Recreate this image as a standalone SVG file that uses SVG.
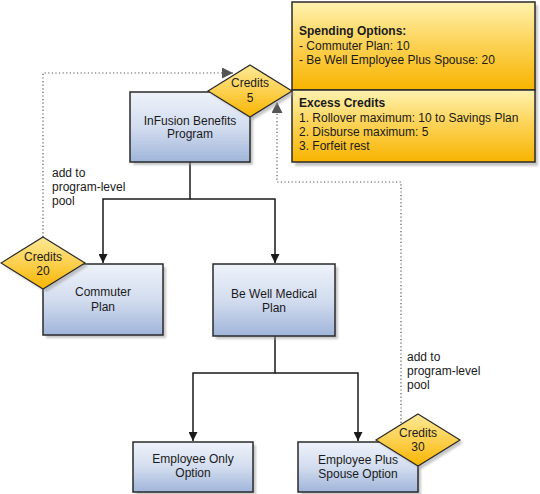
<svg xmlns="http://www.w3.org/2000/svg" width="540" height="494" viewBox="0 0 540 494">
<defs>
<linearGradient id="gBox" x1="0" y1="0" x2="0" y2="1">
<stop offset="0" stop-color="#eef2fa"/>
<stop offset="0.5" stop-color="#d3ddef"/>
<stop offset="1" stop-color="#a0b5da"/>
</linearGradient>
<linearGradient id="gYel" x1="0" y1="0" x2="0" y2="1">
<stop offset="0" stop-color="#fff2b0"/>
<stop offset="0.45" stop-color="#fcd45a"/>
<stop offset="1" stop-color="#f8b400"/>
</linearGradient>
<linearGradient id="gDia" x1="0" y1="0" x2="0" y2="1">
<stop offset="0" stop-color="#fde995"/>
<stop offset="0.5" stop-color="#fcd050"/>
<stop offset="1" stop-color="#f8b500"/>
</linearGradient>
<filter id="sh" x="-10%" y="-10%" width="130%" height="130%">
<feGaussianBlur stdDeviation="1.2"/>
</filter>
<marker id="aSolid" viewBox="0 0 10 10" refX="10" refY="5" markerWidth="9" markerHeight="9" markerUnits="userSpaceOnUse" orient="auto">
<path d="M0,0 L10,5 L0,10 Z" fill="#1a1a1a"/>
</marker>
<marker id="aDot" viewBox="0 0 10 10" refX="10" refY="5" markerWidth="11" markerHeight="11" markerUnits="userSpaceOnUse" orient="auto">
<path d="M0,0 L10,5 L0,10 Z" fill="#555"/>
</marker>
</defs>
<style>
text{font-family:"Liberation Sans",Arial,sans-serif;font-size:12px;fill:#1a1a1a}
.c{text-anchor:middle}
.b{font-weight:bold}
.box{fill:url(#gBox);stroke:#2a2a2a;stroke-width:1.5}
.yel{fill:url(#gYel);stroke:#2a2a2a;stroke-width:1.5}
.dia{fill:url(#gDia);stroke:#2a2a2a;stroke-width:1.2}
.shd{fill:#999;opacity:0.55;filter:url(#sh)}
.ln{fill:none;stroke:#1a1a1a;stroke-width:1.5}
.dot{fill:none;stroke:#555;stroke-width:1.2;stroke-dasharray:1.2,2.4}
</style>

<g id="connectors">
<path class="ln" d="M190,162 V199 H103 V263" marker-end="url(#aSolid)"/>
<path class="ln" d="M190,199 H275 V263" marker-end="url(#aSolid)"/>
<path class="ln" d="M275,336 V373 H193 V441" marker-end="url(#aSolid)"/>
<path class="ln" d="M275,373 H358 V441" marker-end="url(#aSolid)"/>
<path class="dot" d="M43,237 V73 H233" marker-end="url(#aDot)"/>
<path class="dot" d="M401,423 V182 H277 V102" marker-end="url(#aDot)"/>
</g>

<g id="spending-options">
<rect class="shd" x="295" y="5" width="243" height="161"/>
<rect class="yel" x="292" y="2" width="243" height="88"/>
<rect class="yel" x="292" y="90" width="243" height="72"/>
<text class="b" x="299" y="35">Spending Options:</text>
<text x="299" y="50">- Commuter Plan: 10</text>
<text x="299" y="64">- Be Well Employee Plus Spouse: 20</text>
<text class="b" x="299" y="107">Excess Credits</text>
<text x="299" y="122">1. Rollover maximum: 10 to Savings Plan</text>
<text x="299" y="136">2. Disburse maximum: 5</text>
<text x="299" y="150">3. Forfeit rest</text>
</g>

<g id="infusion">
<rect class="shd" x="133" y="95" width="120" height="70"/>
<rect class="box" x="130" y="92" width="120" height="70"/>
<text class="c" x="190" y="125">InFusion Benefits</text>
<text class="c" x="190" y="138">Program</text>
</g>

<g id="commuter">
<rect class="shd" x="46" y="267" width="120" height="71"/>
<rect class="box" x="43" y="264" width="120" height="71"/>
<text class="c" x="103" y="296">Commuter</text>
<text class="c" x="103" y="311">Plan</text>
</g>

<g id="bewell">
<rect class="shd" x="216" y="267" width="122" height="72"/>
<rect class="box" x="213" y="264" width="122" height="72"/>
<text class="c" x="274" y="298">Be Well Medical</text>
<text class="c" x="274" y="312">Plan</text>
</g>

<g id="employee-only">
<rect class="shd" x="136" y="445" width="120" height="50"/>
<rect class="box" x="133" y="442" width="120" height="50"/>
<text class="c" x="193" y="463">Employee Only</text>
<text class="c" x="193" y="477">Option</text>
</g>

<g id="employee-plus">
<rect class="shd" x="301" y="445" width="120" height="50"/>
<rect class="box" x="298" y="442" width="120" height="50"/>
<text class="c" x="358" y="464">Employee Plus</text>
<text class="c" x="358" y="478">Spouse Option</text>
</g>

<g id="credits-5">
<path class="shd" d="M253,68 L295,94 L253,120 L211,94 Z"/>
<path class="dia" d="M250,65 L292,91 L250,117 L208,91 Z"/>
<text class="c" x="250" y="87">Credits</text>
<text class="c" x="250" y="102">5</text>
</g>

<g id="credits-20">
<path class="shd" d="M46,240 L88,266 L46,292 L4,266 Z"/>
<path class="dia" d="M43,237 L85,263 L43,289 L1,263 Z"/>
<text class="c" x="43" y="261">Credits</text>
<text class="c" x="43" y="275">20</text>
</g>

<g id="credits-30">
<path class="shd" d="M421,417 L463,443 L421,469 L379,443 Z"/>
<path class="dia" d="M418,414 L460,440 L418,466 L376,440 Z"/>
<text class="c" x="418" y="437">Credits</text>
<text class="c" x="418" y="451">30</text>
</g>

<g id="labels">
<text x="52" y="177">add to</text>
<text x="52" y="191">program-level</text>
<text x="52" y="205">pool</text>
<text x="407" y="361">add to</text>
<text x="407" y="375">program-level</text>
<text x="407" y="389">pool</text>
</g>
</svg>
